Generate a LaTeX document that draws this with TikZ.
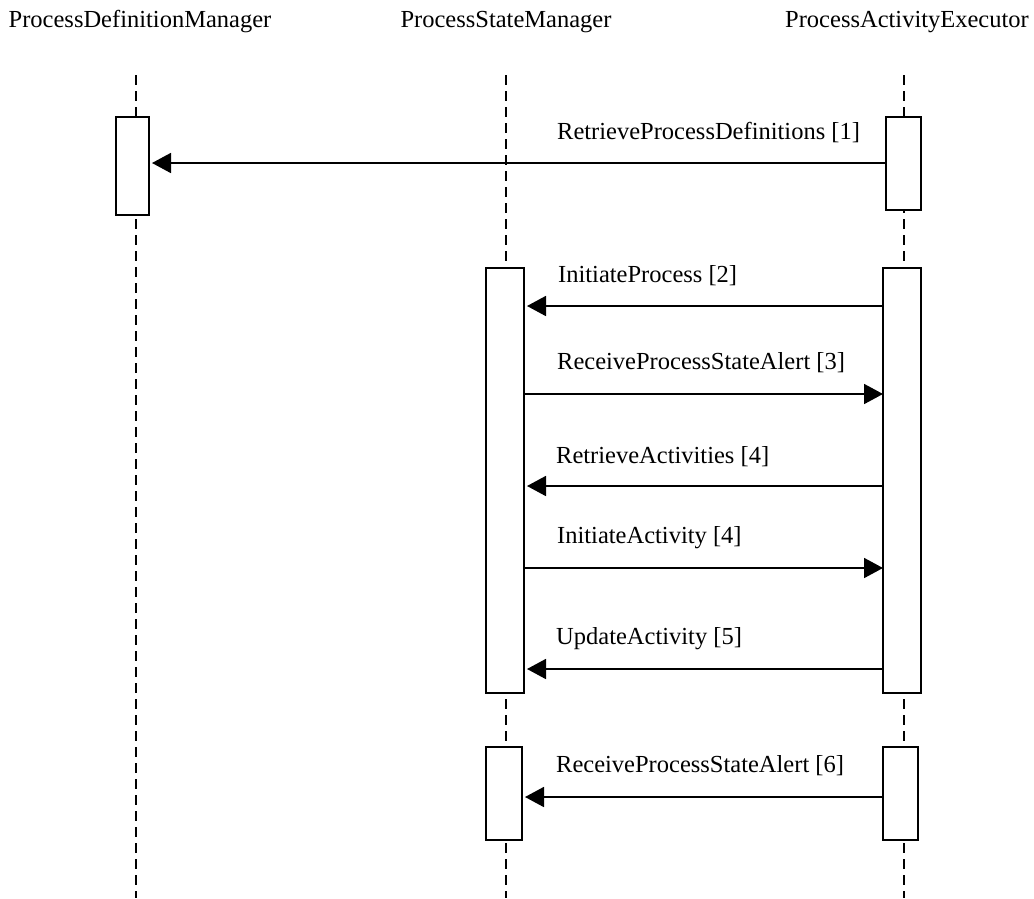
\documentclass[tikz,border=0pt]{standalone}
\usepackage{fontspec}
\setmainfont{Liberation Serif}
\usetikzlibrary{arrows.meta}
\begin{document}
\begin{tikzpicture}[x=1pt, y=-1pt,
        font=\fontsize{24.5}{29}\selectfont,
        lifeline/.style={line width=1.5pt, dash pattern=on 10pt off 6pt},
        actbox/.style={draw, line width=1.8pt, fill=white},
        msg/.style={line width=1.8pt, -{Triangle[length=19pt, width=20pt]}, shorten >=3pt},
        msglabel/.style={anchor=west, inner sep=0pt}]
        \useasboundingbox (0,0) rectangle (1034,898);

        % Lifeline heads
        \node[inner sep=0pt] (pdm) at (140,22) {ProcessDefinitionManager};
        \node[inner sep=0pt] (psm) at (506,22) {ProcessStateManager};
        \node[inner sep=0pt] (pae) at (907,22) {ProcessActivityExecutor};

        % Lifelines
        \draw[lifeline] (136,75) -- (136,898);
        \draw[lifeline] (506,75) -- (506,898);
        \draw[lifeline] (904,75) -- (904,898);

        % Activation boxes
        \draw[actbox] (116,117) rectangle (149,215);
        \draw[actbox] (886,117) rectangle (921,210);
        \draw[actbox] (486,268) rectangle (524,693);
        \draw[actbox] (883,268) rectangle (921,693);
        \draw[actbox] (486,747) rectangle (522,840);
        \draw[actbox] (883,747) rectangle (918,840);

        % Messages
        \coordinate (m1s) at (886,163);  \coordinate (m1e) at (149,163);
        \coordinate (m2s) at (883,306);  \coordinate (m2e) at (524,306);
        \coordinate (m3s) at (524,394);  \coordinate (m3e) at (886,394);
        \coordinate (m4s) at (883,486);  \coordinate (m4e) at (524,486);
        \coordinate (m5s) at (524,568);  \coordinate (m5e) at (886,568);
        \coordinate (m6s) at (883,669);  \coordinate (m6e) at (524,669);
        \coordinate (m7s) at (883,797);  \coordinate (m7e) at (522,797);

        \draw[msg] (m1s) -- (m1e);
        \draw[msg] (m2s) -- (m2e);
        \draw[msg] (m3s) -- (m3e);
        \draw[msg] (m4s) -- (m4e);
        \draw[msg] (m5s) -- (m5e);
        \draw[msg] (m6s) -- (m6e);
        \draw[msg] (m7s) -- (m7e);

        % Message labels
        \node[msglabel] (l1) at (557,133) {RetrieveProcessDefinitions [1]};
        \node[msglabel] (l2) at (558,276) {InitiateProcess [2]};
        \node[msglabel] (l3) at (557,363) {ReceiveProcessStateAlert [3]};
        \node[msglabel] (l4) at (556,457) {RetrieveActivities [4]};
        \node[msglabel] (l5) at (557,538) {InitiateActivity [4]};
        \node[msglabel] (l6) at (556,639) {UpdateActivity [5]};
        \node[msglabel] (l7) at (556,766) {ReceiveProcessStateAlert [6]};

    \end{tikzpicture}
\end{document}
